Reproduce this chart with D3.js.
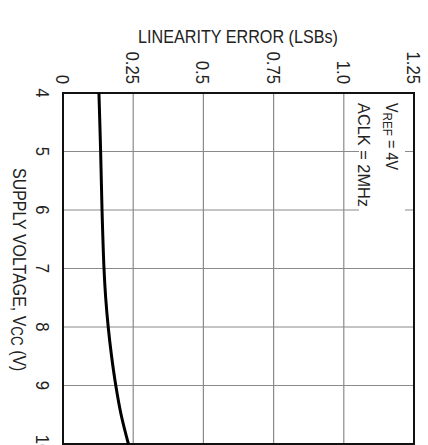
<!DOCTYPE html>
<html lang="en">
<head>
    <meta charset="UTF-8">
    <title>Linearity error vs supply voltage</title>
    <script src="https://cdn.jsdelivr.net/npm/d3@7"></script>
    <style>
        body { margin: 0; background: #fff; }
        text { font-family: "Liberation Sans", Arial, sans-serif; fill: #222; }
    </style>
</head>
<body>
<script>
    var voltage = [4, 5, 6, 7, 7.5, 8, 8.5, 9, 9.5, 10];
    var linErr  = [0.128, 0.134, 0.139, 0.146, 0.152, 0.161, 0.173, 0.188, 0.207, 0.233];
    var errTicks = [0, 0.25, 0.5, 0.75, 1.0, 1.25];
    var errLabels = ["0", "0.25", "0.5", "0.75", "1.0", "1.25"];
    var voltTicks = [4, 5, 6, 7, 8, 9, 10];

    var w = 428, h = 445;
    var svg = d3.select("body").append("svg")
        .attr("width", w)
        .attr("height", h);

    // chart is drawn turned a quarter clockwise: error runs left->right, voltage top->bottom
    var x = d3.scaleLinear().domain([0, 1.25]).range([63, 414]);
    var y = d3.scaleLinear().domain([4, 10]).range([93, 444]);

    // grid lines
    svg.append("g")
        .selectAll("line")
        .data(errTicks.slice(1, -1))
        .enter().append("line")
        .attr("x1", d => x(d)).attr("x2", d => x(d))
        .attr("y1", y(4)).attr("y2", y(10))
        .attr("stroke", "#8a8a8a").attr("stroke-width", 1.2);

    svg.append("g")
        .selectAll("line")
        .data(voltTicks.slice(1, -1))
        .enter().append("line")
        .attr("x1", x(0)).attr("x2", x(1.25))
        .attr("y1", d => y(d)).attr("y2", d => y(d))
        .attr("stroke", "#8a8a8a").attr("stroke-width", 1.2);

    // white patch behind the note
    svg.append("rect")
        .attr("x", 359).attr("y", 95)
        .attr("width", 46).attr("height", 119)
        .attr("fill", "#fff");

    // frame
    svg.append("rect")
        .attr("x", x(0)).attr("y", y(4))
        .attr("width", x(1.25) - x(0)).attr("height", y(10) - y(4))
        .attr("fill", "none").attr("stroke", "#111").attr("stroke-width", 2);

    // curve
    var line = d3.line()
        .x((d, i) => x(linErr[i]))
        .y(d => y(d))
        .curve(d3.curveCatmullRom);

    svg.append("path")
        .datum(voltage)
        .attr("d", line)
        .attr("fill", "none")
        .attr("stroke", "#000")
        .attr("stroke-width", 3);

    // error tick labels (top, turned, squeezed a bit)
    svg.selectAll("text.et")
        .data(errTicks)
        .enter().append("text")
        .attr("class", "et")
        .attr("transform", d => "translate(" + (x(d) - 7) + ",84) rotate(90) scale(0.88,1)")
        .attr("text-anchor", "end")
        .attr("font-size", "19px")
        .text((d, i) => errLabels[i]);

    // voltage tick labels (left, turned)
    svg.selectAll("text.vt")
        .data(voltTicks)
        .enter().append("text")
        .attr("class", "vt")
        .attr("transform", d => "translate(36," + y(d) + ") rotate(90) scale(0.88,1)")
        .attr("text-anchor", "middle")
        .attr("font-size", "19px")
        .text(d => d);

    // titles
    svg.append("text")
        .attr("x", 238).attr("y", 43)
        .attr("text-anchor", "middle")
        .attr("font-size", "19px")
        .attr("textLength", 200)
        .attr("lengthAdjust", "spacingAndGlyphs")
        .text("LINEARITY  ERROR (LSBs)");

    var vt = svg.append("text")
        .attr("transform", "translate(13,168) rotate(90) scale(0.84,1)")
        .attr("font-size", "19px");
    vt.append("tspan").text("SUPPLY VOLTAGE, V");
    vt.append("tspan").attr("font-size", "16px").attr("dy", 2).text("CC");
    vt.append("tspan").attr("dy", -2).text(" (V)");

    // note
    var n1 = svg.append("text")
        .attr("transform", "translate(386,103) rotate(90) scale(0.9,1)")
        .attr("font-size", "16px");
    n1.append("tspan").text("V");
    n1.append("tspan").attr("font-size", "13px").attr("dy", 3).text("REF");
    n1.append("tspan").attr("dy", -3).text(" = 4V");

    svg.append("text")
        .attr("transform", "translate(358,103) rotate(90)")
        .attr("font-size", "16px")
        .attr("textLength", 104)
        .attr("lengthAdjust", "spacingAndGlyphs")
        .text("ACLK = 2MHz");
</script>
</body>
</html>
